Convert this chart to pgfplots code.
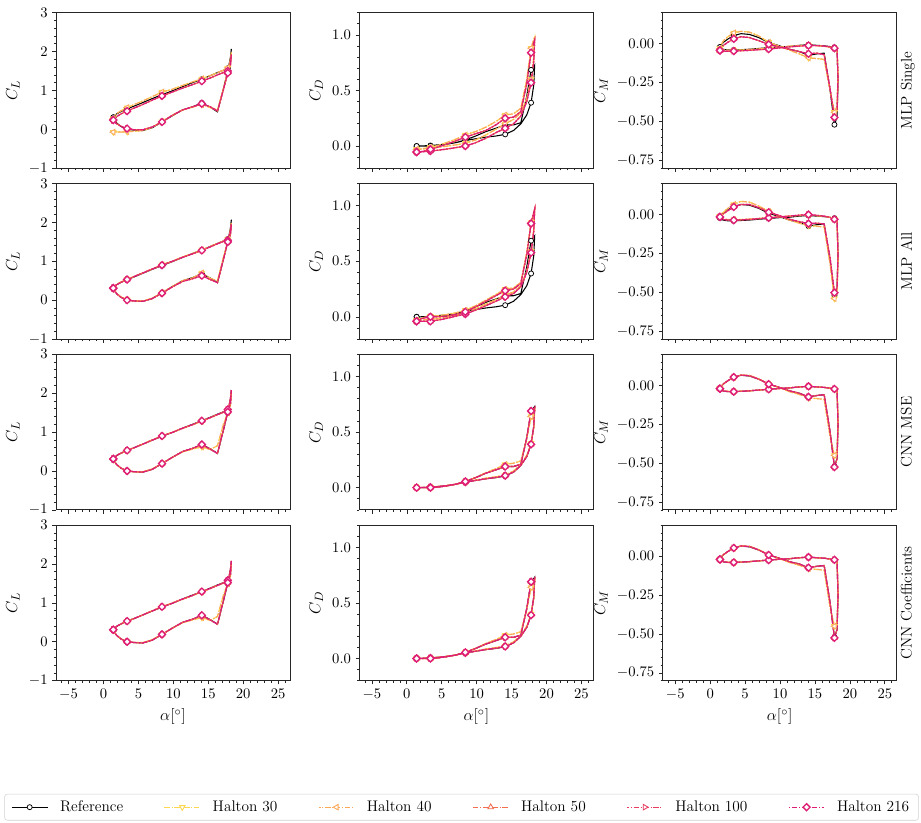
\documentclass[border=0pt]{standalone}
\usepackage{pgfplots}
\pgfplotsset{compat=1.18}
\usepackage{pgfplotstable}

\definecolor{c30}{RGB}{253,214,82}
\definecolor{c40}{RGB}{251,168,88}
\definecolor{c50}{RGB}{242,110,78}
\definecolor{c100}{RGB}{230,60,96}
\definecolor{c216}{RGB}{222,28,118}

% columns: a = angle of attack, ref = reference, s* = MLP Single, m* = MLP All, c* = CNN
% suffix 1 = Halton 50/100/216 curves, suffix 2 = Halton 30/40 curves
\pgfplotstableread{
a     ref    s1     s2     m1     m2     c1     c2
1.40  0.31   0.24   0.28   0.31   0.30   0.31   0.30
1.53  0.34   0.27   0.33   0.35   0.34   0.34   0.34
1.91  0.40   0.33   0.41   0.40   0.41   0.40   0.40
2.53  0.46   0.40   0.48   0.46   0.47   0.46   0.46
3.38  0.53   0.47   0.56   0.53   0.54   0.53   0.53
4.42  0.60   0.55   0.64   0.61   0.61   0.60   0.60
5.63  0.69   0.64   0.73   0.70   0.70   0.69   0.69
6.96  0.79   0.75   0.84   0.80   0.80   0.79   0.80
8.38  0.89   0.86   0.96   0.90   0.91   0.90   0.90
9.85  0.99   0.96   1.03   1.00   1.00   0.99   1.00
11.32 1.10   1.06   1.13   1.10   1.11   1.10   1.09
12.74 1.20   1.15   1.22   1.19   1.20   1.19   1.19
14.08 1.29   1.24   1.30   1.28   1.29   1.29   1.28
15.28 1.38   1.32   1.38   1.37   1.38   1.37   1.37
16.32 1.46   1.40   1.46   1.45   1.46   1.45   1.45
17.17 1.52   1.46   1.52   1.51   1.52   1.51   1.51
17.79 1.57   1.50   1.58   1.54   1.56   1.58   1.56
18.17 1.70   1.62   1.72   1.68   1.70   1.72   1.68
18.30 2.07   1.92   1.98   1.95   1.98   2.08   2.00
18.17 1.85   1.75   1.80   1.78   1.80   1.85   1.80
17.79 1.50   1.45   1.48   1.50   1.50   1.52   1.50
17.17 1.05   1.02   1.05   1.05   1.10   1.06   1.20
16.32 0.45   0.47   0.50   0.45   0.50   0.45   0.65
15.28 0.57   0.58   0.56   0.53   0.56   0.56   0.55
14.08 0.68   0.66   0.64   0.63   0.70   0.68   0.62
12.74 0.58   0.58   0.57   0.55   0.57   0.58   0.56
11.32 0.50   0.50   0.50   0.48   0.50   0.50   0.49
9.85  0.35   0.36   0.36   0.34   0.35   0.35   0.35
8.38  0.19   0.19   0.20   0.18   0.19   0.19   0.19
6.96  0.04   0.06   0.05   0.04   0.05   0.04   0.05
5.63  -0.03  -0.01  -0.03  -0.03  -0.02  -0.03  -0.02
4.42  -0.02  -0.01  -0.05  -0.02  -0.02  -0.02  -0.02
3.38  0.00   0.02   -0.06  0.00   0.01   0.00   0.00
2.53  0.07   0.08   -0.07  0.07   0.08   0.07   0.07
1.91  0.16   0.14   -0.07  0.16   0.17   0.16   0.16
1.53  0.25   0.20   -0.07  0.25   0.26   0.25   0.25
1.40  0.31   0.24   -0.07  0.31   0.30   0.31   0.30
}\tabCL

\pgfplotstableread{
a     ref    s1     s2     m1     m2     c1     c2
1.40  0.000  -0.054 -0.030 -0.040 -0.030 0.000  0.000
1.53  0.000  -0.055 -0.030 -0.040 -0.030 0.000  0.000
1.91  0.000  -0.053 -0.028 -0.040 -0.029 0.000  0.000
2.53  0.002  -0.050 -0.025 -0.040 -0.027 0.002  0.002
3.38  0.005  -0.045 -0.020 -0.040 -0.024 0.004  0.005
4.42  0.010  -0.038 -0.012 -0.030 -0.016 0.009  0.010
5.63  0.018  -0.028 -0.002 -0.015 -0.004 0.017  0.018
6.96  0.030  -0.015 0.010  0.005  0.014  0.030  0.030
8.38  0.050  0.000  0.025  0.025  0.038  0.050  0.050
9.85  0.065  0.030  0.055  0.060  0.075  0.065  0.068
11.32 0.080  0.070  0.100  0.100  0.115  0.080  0.085
12.74 0.090  0.120  0.150  0.140  0.155  0.092  0.098
14.08 0.105  0.160  0.200  0.180  0.195  0.108  0.112
15.28 0.140  0.200  0.240  0.210  0.225  0.140  0.150
16.32 0.200  0.270  0.300  0.270  0.280  0.200  0.210
17.17 0.280  0.400  0.430  0.400  0.410  0.280  0.290
17.79 0.390  0.570  0.600  0.577  0.590  0.390  0.400
18.17 0.550  0.760  0.800  0.770  0.790  0.550  0.540
18.30 0.730  0.955  0.980  0.970  0.960  0.720  0.690
18.17 0.720  0.930  0.960  0.940  0.930  0.710  0.670
17.79 0.685  0.840  0.880  0.840  0.850  0.690  0.640
17.17 0.450  0.560  0.600  0.560  0.580  0.450  0.440
16.32 0.210  0.310  0.340  0.300  0.310  0.210  0.240
15.28 0.190  0.260  0.290  0.250  0.260  0.190  0.220
14.08 0.190  0.250  0.280  0.235  0.250  0.190  0.210
12.74 0.160  0.190  0.220  0.190  0.200  0.160  0.170
11.32 0.130  0.140  0.170  0.140  0.150  0.130  0.135
9.85  0.090  0.110  0.130  0.090  0.100  0.090  0.092
8.38  0.055  0.080  0.100  0.045  0.060  0.055  0.055
6.96  0.030  0.045  0.060  0.020  0.035  0.030  0.030
5.63  0.015  0.015  0.030  0.005  0.020  0.015  0.015
4.42  0.005  -0.010 0.005  0.000  0.010  0.005  0.005
3.38  0.000  -0.030 -0.010 0.000  0.005  0.000  0.000
2.53  0.000  -0.045 -0.020 -0.010 -0.005 0.000  0.000
1.91  0.000  -0.052 -0.028 -0.020 -0.015 0.000  0.000
1.53  0.000  -0.054 -0.030 -0.030 -0.025 0.000  0.000
1.40  0.000  -0.054 -0.030 -0.040 -0.030 0.000  0.000
}\tabCD

\pgfplotstableread{
a     ref    s1     s2     m1     m2     c1     c2
1.40  -0.021 -0.043 -0.030 -0.015 -0.010 -0.021 -0.020
1.53  -0.030 -0.045 -0.035 -0.025 -0.020 -0.030 -0.028
1.91  -0.036 -0.047 -0.040 -0.032 -0.028 -0.036 -0.034
2.53  -0.040 -0.048 -0.042 -0.035 -0.032 -0.040 -0.038
3.38  -0.040 -0.047 -0.042 -0.036 -0.033 -0.040 -0.040
4.42  -0.038 -0.045 -0.040 -0.034 -0.032 -0.038 -0.038
5.63  -0.035 -0.042 -0.037 -0.031 -0.029 -0.035 -0.035
6.96  -0.030 -0.038 -0.033 -0.026 -0.025 -0.030 -0.030
8.38  -0.025 -0.034 -0.028 -0.021 -0.020 -0.025 -0.025
9.85  -0.020 -0.027 -0.022 -0.015 -0.015 -0.020 -0.020
11.32 -0.017 -0.020 -0.016 -0.010 -0.010 -0.016 -0.016
12.74 -0.010 -0.015 -0.012 -0.004 -0.006 -0.010 -0.010
14.08 -0.006 -0.011 -0.010 0.000  -0.004 -0.006 -0.007
15.28 -0.010 -0.012 -0.012 -0.005 -0.007 -0.010 -0.010
16.32 -0.013 -0.015 -0.016 -0.010 -0.012 -0.013 -0.013
17.17 -0.018 -0.020 -0.022 -0.018 -0.018 -0.018 -0.018
17.79 -0.023 -0.028 -0.030 -0.030 -0.030 -0.023 -0.025
18.17 -0.030 -0.035 -0.040 -0.035 -0.040 -0.030 -0.035
18.30 -0.250 -0.220 -0.200 -0.260 -0.280 -0.250 -0.230
18.17 -0.470 -0.430 -0.400 -0.470 -0.500 -0.470 -0.420
17.79 -0.520 -0.473 -0.440 -0.502 -0.540 -0.525 -0.450
17.17 -0.300 -0.290 -0.300 -0.280 -0.320 -0.300 -0.330
16.32 -0.060 -0.070 -0.100 -0.060 -0.080 -0.060 -0.090
15.28 -0.065 -0.060 -0.095 -0.055 -0.075 -0.065 -0.085
14.08 -0.074 -0.064 -0.090 -0.058 -0.070 -0.074 -0.080
12.74 -0.050 -0.050 -0.065 -0.045 -0.055 -0.050 -0.058
11.32 -0.035 -0.035 -0.040 -0.030 -0.035 -0.035 -0.040
9.85  -0.012 -0.020 -0.015 -0.005 -0.008 -0.012 -0.014
8.38  0.008  -0.004 0.010  0.015  0.020  0.008  0.008
6.96  0.040  0.020  0.050  0.045  0.055  0.040  0.042
5.63  0.060  0.040  0.075  0.065  0.080  0.062  0.064
4.42  0.065  0.045  0.080  0.065  0.085  0.066  0.066
3.38  0.053  0.032  0.070  0.049  0.065  0.053  0.052
2.53  0.030  0.010  0.045  0.025  0.040  0.030  0.030
1.91  0.010  -0.010 0.020  0.005  0.015  0.010  0.010
1.53  -0.008 -0.030 -0.010 -0.008 -0.002 -0.008 -0.008
1.40  -0.021 -0.043 -0.030 -0.015 -0.010 -0.021 -0.020
}\tabCM

\pgfplotsset{
  panel/.style={scale only axis, width=175.5pt, height=116.7pt,
    xmin=-6.8, xmax=26.7, xtick={-5,0,...,25}, minor xtick={-6,...,26},
    tick pos=left, tick align=outside,
    major tick length=2.8pt, minor tick length=1.6pt,
    axis line style={black!85, line width=0.6pt},
    every tick/.style={black!85, line width=0.5pt},
    tick label style={font=\fontsize{11}{13}\selectfont},
    label style={font=\fontsize{13}{15}\selectfont}},
  clax/.style={panel, ymin=-1, ymax=3, ytick={-1,0,1,2,3},
    minor ytick={-0.8,-0.6,...,2.9}, ylabel={$C_L$}},
  cdax/.style={panel, ymin=-0.2, ymax=1.2, ytick={0,0.5,1},
    minor ytick={-0.2,-0.1,...,1.25}, ylabel={$C_D$},
    yticklabel style={/pgf/number format/.cd, fixed, fixed zerofill, precision=1}},
  cmax/.style={panel, ymin=-0.8, ymax=0.2, ytick={-0.75,-0.5,-0.25,0},
    minor ytick={-0.8,-0.75,...,0.22}, ylabel={$C_M$},
    yticklabel style={/pgf/number format/.cd, fixed, fixed zerofill, precision=2}},
  top/.style={xticklabels={}},
  bot/.style={xlabel={$\alpha[^\circ]$}},
  refl/.style={black, line width=0.8pt, mark=*, mark repeat=4, mark size=1.9pt,
    mark options={solid, fill=white, draw=black, line width=0.55pt}},
  hal/.style={line width=0.9pt, dash pattern=on 4pt off 1.3pt on 0.8pt off 1.3pt,
    mark repeat=4},
  h30/.style={hal, c30, mark=triangle*, mark size=2.4pt,
    mark options={solid, fill=white, rotate=180, line width=0.65pt}},
  h40/.style={hal, c40, dash phase=2.5pt, mark=triangle*, mark size=2.4pt,
    mark options={solid, fill=white, rotate=90, line width=0.65pt}},
  h50/.style={hal, c50, mark=triangle*, mark size=2.4pt,
    mark options={solid, fill=white, line width=0.65pt}},
  h100/.style={hal, c100, dash phase=2.5pt, mark=triangle*, mark size=2.4pt,
    mark options={solid, fill=white, rotate=-90, line width=0.65pt}},
  h216/.style={hal, c216, dash phase=5pt, mark=square*, mark size=1.85pt,
    mark options={solid, fill=white, rotate=45, line width=1pt}},
}

% one panel: table, column for Halton 50/100/216, column for Halton 30/40
\newcommand{\loops}[3]{%
  \addplot[refl] table[x=a, y=ref]{#1};
  \addplot[h30] table[x=a, y=#3]{#1};
  \addplot[h40] table[x=a, y=#3]{#1};
  \addplot[h50] table[x=a, y=#2]{#1};
  \addplot[h100] table[x=a, y=#2]{#1};
  \addplot[h216] table[x=a, y=#2]{#1};
}

\begin{document}
\begin{tikzpicture}
\path[use as bounding box] (0,0) rectangle (690.75pt,-617.25pt);

% row 1: MLP Single
\begin{axis}[clax, top, name=r1c1, at={(42pt,-9.5pt)}, anchor=north west]
\loops{\tabCL}{s1}{s2}
\end{axis}
\begin{axis}[cdax, top, name=r1c2, at={(269.5pt,-9.5pt)}, anchor=north west]
\loops{\tabCD}{s1}{s2}
\end{axis}
\begin{axis}[cmax, top, name=r1c3, at={(497pt,-9.5pt)}, anchor=north west]
\loops{\tabCM}{s1}{s2}
\end{axis}

% row 2: MLP All
\begin{axis}[clax, top, name=r2c1, at={(42pt,-137.6pt)}, anchor=north west]
\loops{\tabCL}{m1}{m2}
\end{axis}
\begin{axis}[cdax, top, name=r2c2, at={(269.5pt,-137.6pt)}, anchor=north west]
\loops{\tabCD}{m1}{m2}
\end{axis}
\begin{axis}[cmax, top, name=r2c3, at={(497pt,-137.6pt)}, anchor=north west]
\loops{\tabCM}{m1}{m2}
\end{axis}

% row 3: CNN MSE
\begin{axis}[clax, top, name=r3c1, at={(42pt,-265.7pt)}, anchor=north west]
\loops{\tabCL}{c1}{c2}
\end{axis}
\begin{axis}[cdax, top, name=r3c2, at={(269.5pt,-265.7pt)}, anchor=north west]
\loops{\tabCD}{c1}{c2}
\end{axis}
\begin{axis}[cmax, top, name=r3c3, at={(497pt,-265.7pt)}, anchor=north west]
\loops{\tabCM}{c1}{c2}
\end{axis}

% row 4: CNN Coefficients
\begin{axis}[clax, bot, name=r4c1, at={(42pt,-393.8pt)}, anchor=north west]
\loops{\tabCL}{c1}{c2}
\end{axis}
\begin{axis}[cdax, bot, name=r4c2, at={(269.5pt,-393.8pt)}, anchor=north west,
  legend entries={Reference, Halton 30, Halton 40, Halton 50, Halton 100, Halton 216},
  legend columns=6, legend cell align=left,
  legend image code/.code={\draw[mark repeat=2, mark phase=2]
    plot coordinates {(0cm,0cm) (0.47cm,0cm) (0.94cm,0cm)};},
  legend style={at={(0.437,-0.813)}, anchor=center, draw=black!18, fill=white,
    rounded corners=2pt, font=\fontsize{11.5}{13}\selectfont,
    inner xsep=5pt, inner ysep=3pt,
    /tikz/every odd column/.append style={column sep=7pt},
    /tikz/every even column/.append style={column sep=28.5pt}}]
\loops{\tabCD}{c1}{c2}
\end{axis}
\begin{axis}[cmax, bot, name=r4c3, at={(497pt,-393.8pt)}, anchor=north west]
\loops{\tabCM}{c1}{c2}
\end{axis}

\foreach \r/\t in {r1c3/MLP Single, r2c3/MLP All, r3c3/CNN MSE, r4c3/CNN Coefficients}
  \node[rotate=90, anchor=north, inner sep=0pt, font=\fontsize{11.5}{13}\selectfont]
    at ([xshift=3pt]\r.east) {\t};
\end{tikzpicture}
\end{document}
